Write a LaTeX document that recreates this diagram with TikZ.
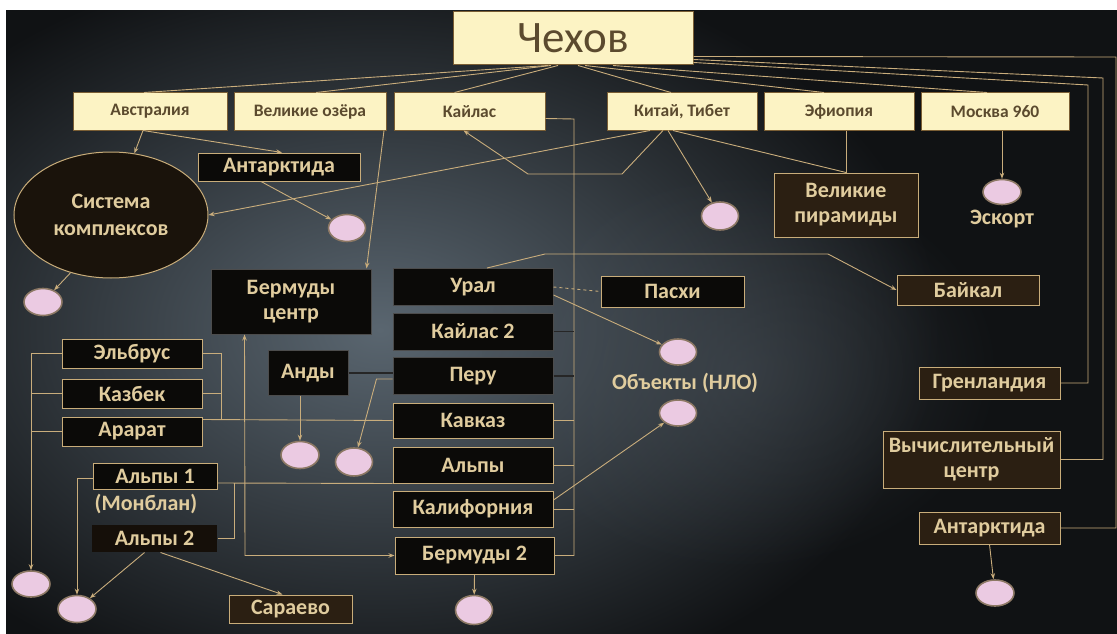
\documentclass[tikz,border=0pt]{standalone}
\usepackage{fontspec}
\setmainfont{Carlito}
\usetikzlibrary{arrows.meta,shapes.geometric,calc,fadings}
\tikzfading[name=myglow, inner color=transparent!0, outer color=transparent!100]
\definecolor{bgdark}{HTML}{101214}
\definecolor{bglight}{HTML}{5A6670}
\definecolor{bgmid}{HTML}{4A525A}
\definecolor{cream}{HTML}{FCF3C4}
\definecolor{creamedge}{HTML}{7A5E34}
\definecolor{creamtext}{HTML}{5B4A2E}
\definecolor{boxblack}{HTML}{0B0A08}
\definecolor{boxbrown}{HTML}{2B1F12}
\definecolor{gold}{HTML}{C9AD7A}
\definecolor{goldtext}{HTML}{E0CC9E}
\definecolor{linec}{HTML}{C9AD7C}
\definecolor{pinkf}{HTML}{EBCAE2}
\definecolor{pinke}{HTML}{8C7864}
\begin{document}
\begin{tikzpicture}[x=1pt,y=-1pt,
  cream/.style={rectangle, fill=cream, draw=creamedge, line width=1pt, text=creamtext,
    minimum height=37, inner sep=0pt, font=\fontsize{17.5}{19}\selectfont\bfseries},
  darkbox/.style={rectangle, fill=boxblack, draw=gold, line width=1pt, text=goldtext,
    inner sep=0pt, align=center, font=\fontsize{22}{25}\selectfont\bfseries},
  blackbox/.style={darkbox, draw=black!70},
  brownbox/.style={darkbox, fill=boxbrown},
  pinkc/.style={ellipse, fill=pinkf, draw=pinke, line width=1.6pt, inner sep=0pt},
  lbl/.style={text=goldtext, inner sep=0pt, font=\fontsize{22}{25}\selectfont\bfseries},
  conn/.style={draw=linec, line width=0.9pt},
  darkln/.style={draw=black!85, line width=1.8pt},
  arr/.style={conn, -{Stealth[length=6pt,width=4.5pt]}},
  dblarr/.style={conn, {Stealth[length=6pt,width=4.5pt]}-{Stealth[length=6pt,width=4.5pt]}}
]
\useasboundingbox (0,0) rectangle (1117,634);
% ---- background
\fill[bgdark] (0,0) rectangle (1117,634);
\shade[inner color=bglight, outer color=bgdark] (380,330) ellipse (560 and 380);
\fill[bgmid, path fading=myglow, fill opacity=0.45] (740,370) ellipse (260 and 200);
\fill[white] (0,0) rectangle (1117,10);
\fill[white] (0,0) rectangle (6,634);

% ---- top
\node[cream, minimum width=240, minimum height=53, font=\fontsize{45}{48}\selectfont] (chekhov) at (573,38.5) {Чехов};
\node[cream, minimum width=154] (avs) at (150,111.5) {Австралия};
\node[cream, minimum width=152] (vel) at (310,111.5) {Великие озёра};
\node[cream, minimum width=151] (kai) at (469.5,111.5) {Кайлас};
\node[cream, minimum width=150] (kit) at (682,111.5) {Китай, Тибет};
\node[cream, minimum width=150] (efi) at (839,111.5) {Эфиопия};
\node[cream, minimum width=148] (mos) at (995,111.5) {Москва 960};

% ---- upper middle
\node[darkbox, minimum width=162, minimum height=28] (antL) at (279,167) {Антарктида};
\node[ellipse, fill=boxbrown!60!black, draw=gold, line width=1pt, text=goldtext, align=center,
  inner sep=0pt, minimum width=194, minimum height=126, font=\fontsize{22}{27}\selectfont\bfseries] (sys) at (111,215) {Система\\комплексов};
\node[pinkc, minimum width=37, minimum height=27] (pinkA) at (347,228) {};
\node[pinkc, minimum width=38, minimum height=27] (pinkS) at (43,302) {};
\node[pinkc, minimum width=37, minimum height=28] (pinkK) at (720,216) {};
\node[brownbox, minimum width=144, minimum height=64] (pyr) at (846,205) {Великие\\пирамиды};
\node[pinkc, minimum width=38, minimum height=25] (pinkE) at (1002,192) {};
\node[lbl] (esk) at (1002,219) {Эскорт};

% ---- central column
\node[blackbox, minimum width=160, minimum height=65] (berc) at (291,301.5) {Бермуды\\центр};
\node[blackbox, minimum width=160, minimum height=37] (ural) at (473,287) {Урал};
\node[blackbox, minimum width=160, minimum height=37] (kai2) at (473,331.5) {Кайлас 2};
\node[blackbox, minimum width=160, minimum height=37] (peru) at (473,376) {Перу};
\node[darkbox, minimum width=160, minimum height=35] (kavk) at (473,420.5) {Кавказ};
\node[darkbox, minimum width=160, minimum height=36] (alpy) at (473,465) {Альпы};
\node[darkbox, minimum width=160, minimum height=36] (kalif) at (473,509) {Калифорния};
\node[darkbox, minimum width=159, minimum height=37] (berm2) at (474.5,555.5) {Бермуды 2};
\node[pinkc, minimum width=37, minimum height=29] (pinkB2) at (474,610) {};
\node[blackbox, minimum width=80, minimum height=45] (andy) at (308,373) {Анды};
\node[pinkc, minimum width=38, minimum height=27] (pinkAn) at (300,455) {};
\node[pinkc, minimum width=37, minimum height=28] (pinkPe) at (354,462) {};

% ---- right middle
\node[darkbox, minimum width=143, minimum height=31] (pasxi) at (672.5,291.5) {Пасхи};
\node[pinkc, minimum width=37, minimum height=26] (pinkO1) at (678,352) {};
\node[lbl] (nlo) at (685,383) {Объекты (НЛО)};
\node[pinkc, minimum width=37, minimum height=26] (pinkO2) at (678,413) {};
\node[brownbox, minimum width=142, minimum height=30] (baikal) at (968,290) {Байкал};
\node[brownbox, minimum width=141, minimum height=32] (gren) at (989.5,383) {Гренландия};
\node[brownbox, minimum width=177, minimum height=57] (vych) at (971.5,459.5) {Вычислительный\\центр};
\node[brownbox, minimum width=141, minimum height=32] (antR) at (989.5,528) {Антарктида};
\node[pinkc, minimum width=38, minimum height=26] (pinkR) at (995,593) {};

% ---- left
\node[darkbox, minimum width=140, minimum height=29] (elb) at (132,353.5) {Эльбрус};
\node[darkbox, minimum width=140, minimum height=29] (kaz) at (132,393.5) {Казбек};
\node[darkbox, minimum width=140, minimum height=29] (ara) at (132,431.5) {Арарат};
\node[darkbox, minimum width=124, minimum height=26] (alp1) at (155,476) {Альпы 1};
\node[lbl] (monb) at (146,504) {(Монблан)};
\node[darkbox, draw=none, fill=boxbrown!50!black, minimum width=125, minimum height=27] (alp2) at (154.5,538.5) {Альпы 2};
\node[pinkc, minimum width=38, minimum height=26] (pinkL1) at (31,584) {};
\node[pinkc, minimum width=38, minimum height=27] (pinkL2) at (77,609) {};
\node[brownbox, minimum width=123, minimum height=28] (sara) at (290.5,609) {Сараево};

\coordinate (tr) at (574,0);
\coordinate (lv) at (31,0);
\coordinate (rv) at (221,0);

% ---- connectors from Чехов
\draw[conn] ($(chekhov.south)+(-25,0)$) -- ($(avs.north)+(-6,0)$);
\draw[conn] ($(chekhov.south)+(-22,0)$) -- ($(vel.north)+(6,0)$);
\draw[conn] ($(chekhov.south)+(-15,0)$) -- ($(kai.north)+(-15,0)$);
\draw[conn] ($(chekhov.south)+(5,0)$) -- ($(kit.north)+(-11,0)$);
\draw[conn] ($(chekhov.south)+(12,0)$) -- ($(efi.north)+(-15,0)$);
\draw[conn] ($(chekhov.south)+(40,0)$) -- ($(mos.north)+(-8,0)$);
\draw[conn] (antR.east) -- (1116,528) -- (1116,57) -- ($(chekhov.north east)+(0,45)$);
\draw[conn] (vych.east) -- (1103,459.5) -- (1103,78) -- ($(chekhov.north east)+(0,48)$);
\draw[conn] (gren.east) -- (1088,383) -- (1088,85) -- ($(chekhov.north east)+(0,51)$);

% ---- upper connectors
\draw[arr] ($(avs.south)+(-7,0)$) -- (sys);
\draw[arr] ($(avs.south)+(-7,0)$) -- ($(antL.north)+(3,0)$);
\draw[arr] ($(antL.south)+(-18,0)$) -- (pinkA);
\draw[arr] ($(vel.south)+(74,0)$) -- ($(berc.north east)+(-5,0)$);
\draw[arr] ($(kit.south)+(-32,0)$) -- (sys.east);
\draw[arr] ($(kit.south)+(-19,0)$) -- (622,174) -- (528,174) -- ($(kai.south)+(-6,0)$);
\draw[arr] ($(kit.south)+(-14,0)$) -- (pinkK);
\draw[conn] ($(kit.south)+(-9,0)$) -- (pyr.north);
\draw[conn] ($(efi.south)+(7,0)$) -- (pyr.north);
\draw[arr] ($(mos.south)+(7,0)$) -- (pinkE);
\draw[arr] (sys.235) -- (pinkS);
\draw[arr] (antR.south) -- (pinkR);

% ---- central trunk
\draw[conn] ($(kai.east)+(0,7)$) -- (574,119) -- (berm2.east -| tr) -- (berm2.east);
\draw[darkln] (kai2.east) -- (kai2.east -| tr);
\draw[darkln] (peru.east) -- (peru.east -| tr);
\draw[conn] (kavk.east) -- (kavk.east -| tr);
\draw[conn] (alpy.east) -- (alpy.east -| tr);
\draw[conn] (kalif.east) -- (kalif.east -| tr);
\draw[conn, dashed] (ural.east) -- (pasxi.west);
\draw[arr] ($(ural.east)+(0,8)$) -- (pinkO1);
\draw[arr] ($(ural.north)+(14,0)$) -- (545,254) -- (828,254) -- (baikal.west);
\draw[arr] ($(kalif.east)+(0,-9)$) -- (pinkO2);
\draw[darkln] (andy.east) -- (andy.east -| peru.west);
\draw[arr] ($(peru.west)+(0,3)$) -- ($(peru.west)+(-16,3)$) -- (pinkPe);
\draw[arr] ($(andy.south)+(-8,0)$) -- (pinkAn);
\draw[dblarr] ($(berc.south west)+(34,0)$) -- (245,555.5) -- (berm2.west);
\draw[arr] (berm2.south) -- (pinkB2);

% ---- left side
\draw[arr] (elb.west) -- (elb.west -| lv) -- (pinkL1);
\draw[conn] (kaz.west) -- (kaz.west -| lv);
\draw[conn] (ara.west) -- (ara.west -| lv);
\draw[conn] (elb.east) -- (elb.east -| rv) -- (221,420);
\draw[conn] (kaz.east) -- (kaz.east -| rv);
\draw[conn] ($(ara.north east)+(0,3)$) -- (kavk.west);
\draw[arr] ($(alp1.west)+(0,2)$) -- (77,478) -- (pinkL2);
\draw[conn] ($(alp1.east)+(0,7)$) -- (alpy.south west);
\draw[conn] (alp2.east) -- (234,538.5) -- (234,483);
\draw[arr] ($(alp2.south)+(-10,0)$) -- (pinkL2);
\draw[arr] ($(alp2.south)+(6,0)$) -- ($(sara.north)+(-8,0)$);
\end{tikzpicture}
\end{document}
